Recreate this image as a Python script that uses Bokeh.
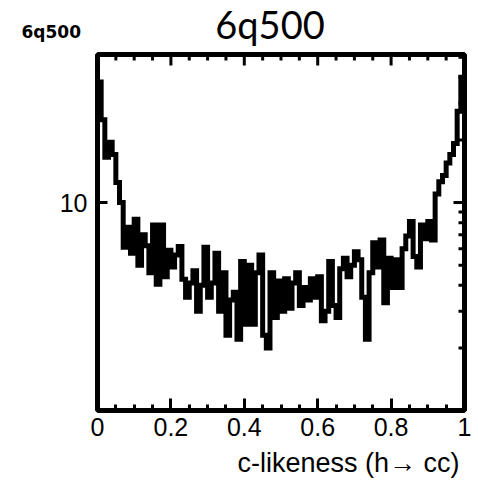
import numpy as np
from bokeh.plotting import figure
from bokeh.layouts import column, row
from bokeh.models import FixedTicker, Range1d, BasicTickFormatter
from bokeh.core.properties import value
from bokeh.embed import file_html
from bokeh.resources import INLINE

# histogram: 100 bins over c-likeness 0..1
bin_width = 0.01
counts = [38, 25, 16.5, 19.5, 17, 12.5, 10.0, 6.1, 7.6, 5.7,
          8.3, 5.0, 7.0, 6.2, 4.6, 7.8, 4.05, 7.8, 4.4, 5.9,
          4.9, 5.6, 6.15, 4.28, 3.5, 4.1, 4.7, 3.0, 4.0, 6.1,
          3.5, 4.1, 5.7, 3.0, 4.6, 2.3, 3.4, 3.7, 2.2, 5.2,
          2.6, 5.0, 2.6, 4.6, 5.6, 2.3, 2.0, 4.6, 2.8, 4.2,
          3.0, 4.3, 3.1, 4.1, 4.6, 3.2, 3.9, 3.4, 4.3, 3.5,
          4.4, 2.7, 3.0, 5.2, 3.2, 2.8, 4.8, 5.4, 4.4, 5.0,
          5.8, 5.3, 3.5, 2.2, 4.6, 6.4, 4.9, 6.6, 3.3, 5.4,
          3.9, 5.3, 3.9, 6.0, 6.9, 8.1, 5.5, 4.9, 7.8, 6.7,
          8.1, 6.6, 11.0, 12.6, 13.5, 15.5, 17.0, 19.2, 27.5, 40]

x_ticks = [0, 0.2, 0.4, 0.6, 0.8, 1]
x_minor = [0.05, 0.1, 0.15, 0.25, 0.3, 0.35, 0.45, 0.5, 0.55,
           0.65, 0.7, 0.75, 0.85, 0.9, 0.95]
y_ticks = [10]
y_minor = [2, 3, 4, 5, 6, 7, 8, 9, 20, 30, 40, 50]
x_tick_labels = {0: "0", 0.2: "0.2", 0.4: "0.4", 0.6: "0.6", 0.8: "0.8", 1: "1"}

title_text = "6q500"
corner_text = "6q500"
x_label_text = "c-likeness (h\u2192 cc)"

x_lo, x_hi = 0.0, 1.0
y_lo, y_hi = 1.0, 51.5

edges = [x_lo + i * bin_width for i in range(len(counts))] + [x_hi]
steps_y = counts + [counts[-1]]

W = 472
TOP_H = 48
MAIN_H = 398
BOT_H = 33
FONT = "Liberation Sans"


def strip(h):
    f = figure(width=W, height=h, x_range=Range1d(0, W), y_range=Range1d(h, 0),
               output_backend="svg", toolbar_location=None, title=None,
               x_axis_location=None, y_axis_location=None,
               min_border=0, min_border_left=0, min_border_right=0,
               min_border_top=0, min_border_bottom=0)
    f.grid.visible = False
    f.outline_line_color = None
    f.background_fill_color = "white"
    f.border_fill_color = "white"
    return f


# title strip (positions are text centre lines, in strip pixels)
top = strip(TOP_H)
top.text(x=[269.5], y=[23.2], text=[title_text], text_align="center",
         text_baseline="middle", text_font=value("Lato"),
         text_font_size="38px", text_color="black")
top.text(x=[21], y=[31.5], text=[corner_text], text_align="left",
         text_baseline="middle", text_font=value("DejaVu Sans"),
         text_font_style="bold", text_font_size="17px", text_color="black")

# main plot
p = figure(width=W, height=MAIN_H, x_range=Range1d(x_lo, x_hi), y_range=Range1d(y_lo, y_hi),
           y_axis_type="log", output_backend="svg", toolbar_location=None, title=None,
           min_border_left=97, min_border_right=8, min_border_top=6, min_border_bottom=36)
p.grid.visible = False
p.outline_line_color = "black"
p.outline_line_width = 5
p.background_fill_color = "white"
p.border_fill_color = "white"

p.step(x=edges, y=steps_y, mode="after", line_color="black", line_width=5, line_join="miter")

# inward ticks on the top and right edges of the frame
p.ray(x=x_ticks, y=[y_hi] * len(x_ticks), length=11, length_units="screen",
      angle=-np.pi / 2, line_color="black", line_width=3)
p.ray(x=x_minor, y=[y_hi] * len(x_minor), length=6, length_units="screen",
      angle=-np.pi / 2, line_color="black", line_width=3)
p.ray(x=[x_hi] * len(y_ticks), y=y_ticks, length=11, length_units="screen",
      angle=np.pi, line_color="black", line_width=3)
p.ray(x=[x_hi] * len(y_minor), y=y_minor, length=6, length_units="screen",
      angle=np.pi, line_color="black", line_width=3)


def style(ax, major_in, minor_in):
    ax.axis_line_color = None
    ax.major_tick_out = 0
    ax.minor_tick_out = 0
    ax.major_tick_in = major_in
    ax.minor_tick_in = minor_in
    ax.major_tick_line_width = 3
    ax.minor_tick_line_width = 3
    ax.major_tick_line_color = "black"
    ax.minor_tick_line_color = "black"
    ax.major_label_text_font = FONT
    ax.major_label_text_font_size = "25px"
    ax.major_label_text_color = "black"


xb = p.xaxis[0]
xb.ticker = FixedTicker(ticks=x_ticks, minor_ticks=x_minor)
xb.major_label_overrides = x_tick_labels
xb.major_label_standoff = 7
style(xb, 12, 6)

yl = p.yaxis[0]
yl.ticker = FixedTicker(ticks=y_ticks, minor_ticks=[])
yl.formatter = BasicTickFormatter()
yl.major_label_overrides = {10: "10"}
yl.major_label_standoff = 10
style(yl, 10, 0)

# x-axis title strip
bot = strip(BOT_H)
bot.text(x=[459], y=[16.4], text=[x_label_text], text_align="right",
         text_baseline="middle", text_font=value(FONT),
         text_font_size="27px", text_color="black")

layout = column(row(top), p, row(bot), spacing=0)
open("out.html", "w").write(file_html(layout, INLINE))
